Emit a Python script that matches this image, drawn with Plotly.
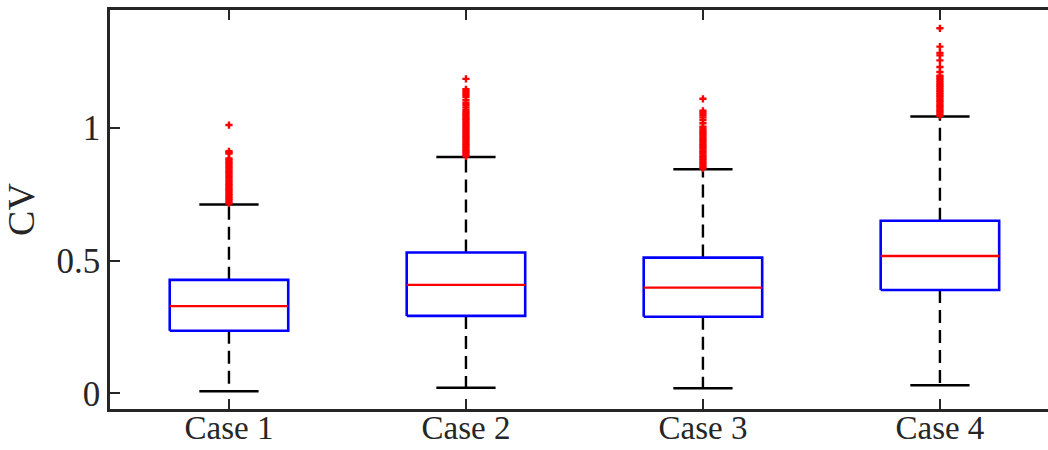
import plotly.graph_objects as go

# Summary statistics per case (box plot of CV)
cases = ["Case 1", "Case 2", "Case 3", "Case 4"]
lower_whisker = [0.008, 0.021, 0.019, 0.030]
q1 = [0.236, 0.292, 0.289, 0.390]
median = [0.329, 0.409, 0.399, 0.518]
q3 = [0.428, 0.531, 0.512, 0.651]
upper_whisker = [0.712, 0.891, 0.845, 1.044]

# Outliers above the upper whisker
outliers_case1 = [0.716, 0.722, 0.729, 0.734, 0.741, 0.747, 0.753, 0.760, 0.766,
                  0.771, 0.778, 0.785, 0.790, 0.797, 0.803, 0.810, 0.816, 0.822,
                  0.829, 0.835, 0.841, 0.848, 0.854, 0.861, 0.867, 0.872, 0.879,
                  0.886, 0.904, 0.908, 0.913, 1.012]
outliers_case2 = [0.894, 0.899, 0.906, 0.912, 0.917, 0.924, 0.930, 0.937, 0.942,
                  0.948, 0.955, 0.961, 0.967, 0.973, 0.979, 0.986, 0.992, 0.998,
                  1.004, 1.011, 1.017, 1.023, 1.030, 1.036, 1.042, 1.049, 1.055,
                  1.061, 1.068, 1.078, 1.087, 1.096, 1.106, 1.118, 1.126, 1.133,
                  1.140, 1.147, 1.186]
outliers_case3 = [0.848, 0.853, 0.860, 0.866, 0.872, 0.879, 0.885, 0.891, 0.897,
                  0.904, 0.910, 0.916, 0.923, 0.929, 0.935, 0.941, 0.948, 0.954,
                  0.960, 0.967, 0.973, 0.979, 0.986, 0.992, 0.999, 1.006, 1.019,
                  1.031, 1.041, 1.050, 1.058, 1.066, 1.111]
outliers_case4 = [1.047, 1.052, 1.059, 1.065, 1.071, 1.078, 1.084, 1.090, 1.097,
                  1.103, 1.109, 1.116, 1.122, 1.128, 1.135, 1.141, 1.147, 1.154,
                  1.160, 1.166, 1.173, 1.179, 1.186, 1.192, 1.198, 1.212, 1.231,
                  1.256, 1.275, 1.284, 1.308, 1.377]
outliers = [outliers_case1, outliers_case2, outliers_case3, outliers_case4]

positions = [1, 2, 3, 4]
BOX_HALF = 0.25
CAP_HALF = 0.125

AXIS_COLOR = "#262626"
FONT = "Liberation Serif"

whisk_x, whisk_y = [], []
cap_x, cap_y = [], []
box_x, box_y = [], []
med_x, med_y = [], []
out_x, out_y = [], []

for p, lw, a, m, b, uw, outs in zip(positions, lower_whisker, q1, median, q3,
                                    upper_whisker, outliers):
    whisk_x += [p, p, None, p, p, None]
    whisk_y += [b, uw, None, a, lw, None]
    cap_x += [p - CAP_HALF, p + CAP_HALF, None, p - CAP_HALF, p + CAP_HALF, None]
    cap_y += [uw, uw, None, lw, lw, None]
    box_x += [p - BOX_HALF, p + BOX_HALF, p + BOX_HALF, p - BOX_HALF, p - BOX_HALF, None]
    box_y += [a, a, b, b, a, None]
    med_x += [p - BOX_HALF, p + BOX_HALF, None]
    med_y += [m, m, None]
    out_x += [p] * len(outs)
    out_y += outs

fig = go.Figure()
fig.add_trace(go.Scatter(x=whisk_x, y=whisk_y, mode="lines",
                         line=dict(color="black", width=2.4, dash="13px,7px"),
                         hoverinfo="skip"))
fig.add_trace(go.Scatter(x=cap_x, y=cap_y, mode="lines",
                         line=dict(color="black", width=2.5), hoverinfo="skip"))
fig.add_trace(go.Scatter(x=box_x, y=box_y, mode="lines",
                         line=dict(color="#0000FF", width=2.6), hoverinfo="skip"))
fig.add_trace(go.Scatter(x=med_x, y=med_y, mode="lines",
                         line=dict(color="#FF0000", width=2.3), hoverinfo="skip"))
fig.add_trace(go.Scatter(x=out_x, y=out_y, mode="markers",
                         marker=dict(color="#FF0000", size=6, symbol="cross",
                                     line=dict(width=0))))

fig.update_layout(
    width=1048, height=450,
    margin=dict(l=110, r=0, t=10, b=41),
    plot_bgcolor="white", paper_bgcolor="white",
    showlegend=False,
    font=dict(family=FONT, color=AXIS_COLOR),
)
fig.update_xaxes(
    range=[0.498, 4.456], automargin=False,
    tickvals=positions, ticktext=cases,
    showline=True, linecolor=AXIS_COLOR, linewidth=2.5, mirror="ticks",
    ticks="inside", ticklen=10, tickwidth=2, tickcolor=AXIS_COLOR,
    showgrid=False, zeroline=False, ticklabelstandoff=-12,
    tickfont=dict(family=FONT, size=33, color=AXIS_COLOR),
)
fig.update_yaxes(
    range=[-0.0592, 1.446], automargin=False,
    tickvals=[0, 0.5, 1], ticktext=["0", "0.5", "1"],
    showline=True, linecolor=AXIS_COLOR, linewidth=2.5, mirror=False,
    ticks="inside", ticklen=10, tickwidth=2, tickcolor=AXIS_COLOR,
    showgrid=False, zeroline=False,
    tickfont=dict(family=FONT, size=35, color=AXIS_COLOR),
    title=dict(text="CV", font=dict(family=FONT, size=38, color=AXIS_COLOR),
               standoff=12),
)

fig.write_html("out.html")
